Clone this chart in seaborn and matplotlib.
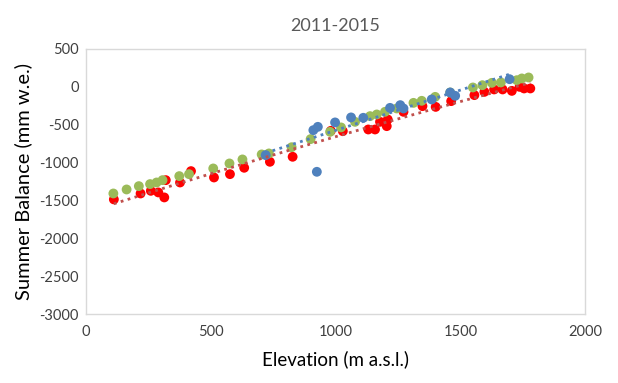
import matplotlib
matplotlib.use("Agg")
import matplotlib.pyplot as plt
import seaborn as sns
import pandas as pd

# Data
red_elev = [112, 219, 260, 290, 314, 320, 377, 421, 513, 577, 634, 737, 828, 981, 1029,
            1131, 1158, 1178, 1205, 1209, 1272, 1348, 1401, 1463, 1556, 1596, 1635, 1669,
            1706, 1737, 1755, 1780]
red_bal = [-1488, -1410, -1375, -1396, -1462, -1234, -1265, -1115, -1199, -1155, -1071, -992,
           -926, -584, -588, -566, -566, -465, -522, -434, -333, -258, -268, -192, -113, -70,
           -38, -38, -57, -4, -25, -25]

green_elev = [110, 163, 212, 257, 283, 307, 374, 413, 510, 575, 627, 704, 733, 824, 900, 978,
              1022, 1078, 1138, 1165, 1198, 1245, 1312, 1345, 1399, 1459, 1550, 1588, 1626,
              1662, 1726, 1746, 1773]
green_bal = [-1410, -1357, -1313, -1286, -1265, -1234, -1181, -1155, -1080, -1014, -961, -895,
             -882, -800, -693, -597, -539, -465, -390, -368, -333, -289, -215, -188, -136, -78,
             -12, 18, 49, 54, 84, 107, 120]

blue_elev = [720, 911, 929, 925, 998, 1062, 1111, 1218, 1259, 1272, 1385, 1459, 1479, 1697]
blue_bal = [-904, -575, -531, -1124, -473, -407, -412, -281, -245, -289, -170, -78, -122, 97]

title = "2011-2015"
xlabel = "Elevation (m a.s.l.)"
ylabel = "Summer Balance (mm w.e.)"
x_ticks = [0, 500, 1000, 1500, 2000]
y_ticks = [500, 0, -500, -1000, -1500, -2000, -2500, -3000]

sns.set_theme(style="white")
plt.rcParams['font.family'] = ['Lato', 'DejaVu Sans']
plt.rcParams['axes.unicode_minus'] = False

red_df = pd.DataFrame({"elev": red_elev, "bal": red_bal})
green_df = pd.DataFrame({"elev": green_elev, "bal": green_bal})
blue_df = pd.DataFrame({"elev": blue_elev, "bal": blue_bal})

fig = plt.figure(figsize=(6.18, 3.83), dpi=100)
ax = fig.add_axes([0.139, 0.180, 0.808, 0.693])

ms = 50
sns.scatterplot(data=red_df, x="elev", y="bal", color="#FF0000", s=ms, edgecolor="none",
                ax=ax, zorder=3)
sns.scatterplot(data=green_df, x="elev", y="bal", color="#9BBB59", s=ms, edgecolor="none",
                ax=ax, zorder=4)
sns.scatterplot(data=blue_df, x="elev", y="bal", color="#4F81BD", s=ms, edgecolor="none",
                ax=ax, zorder=5)

sns.regplot(data=red_df, x="elev", y="bal", scatter=False, order=2, ci=None, ax=ax,
            line_kws=dict(color="#C0504D", linestyle=(0, (1, 1.6)), linewidth=2, zorder=6))
sns.regplot(data=blue_df, x="elev", y="bal", scatter=False, order=1, ci=None, ax=ax,
            line_kws=dict(color="#4F81BD", linestyle=(0, (1, 1.6)), linewidth=2, zorder=6))

ax.set_xlim(0, 2000)
ax.set_ylim(-3000, 500)
ax.set_xticks(x_ticks)
ax.set_yticks(y_ticks)
ax.tick_params(axis="both", length=0, labelsize=10.5, colors="#404040")
ax.tick_params(axis="y", pad=5)
ax.tick_params(axis="x", pad=8)
ax.grid(False)
for sp in ax.spines.values():
    sp.set_color("#D9D9D9")
    sp.set_linewidth(1)

ax.set_title(title, fontsize=13, color="#595959", pad=13)
ax.set_xlabel(xlabel, fontsize=13.5, color="#000000", labelpad=8)
ax.set_ylabel(ylabel, fontsize=14.5, color="#000000", labelpad=5)

fig.savefig("out.png", dpi=100)
